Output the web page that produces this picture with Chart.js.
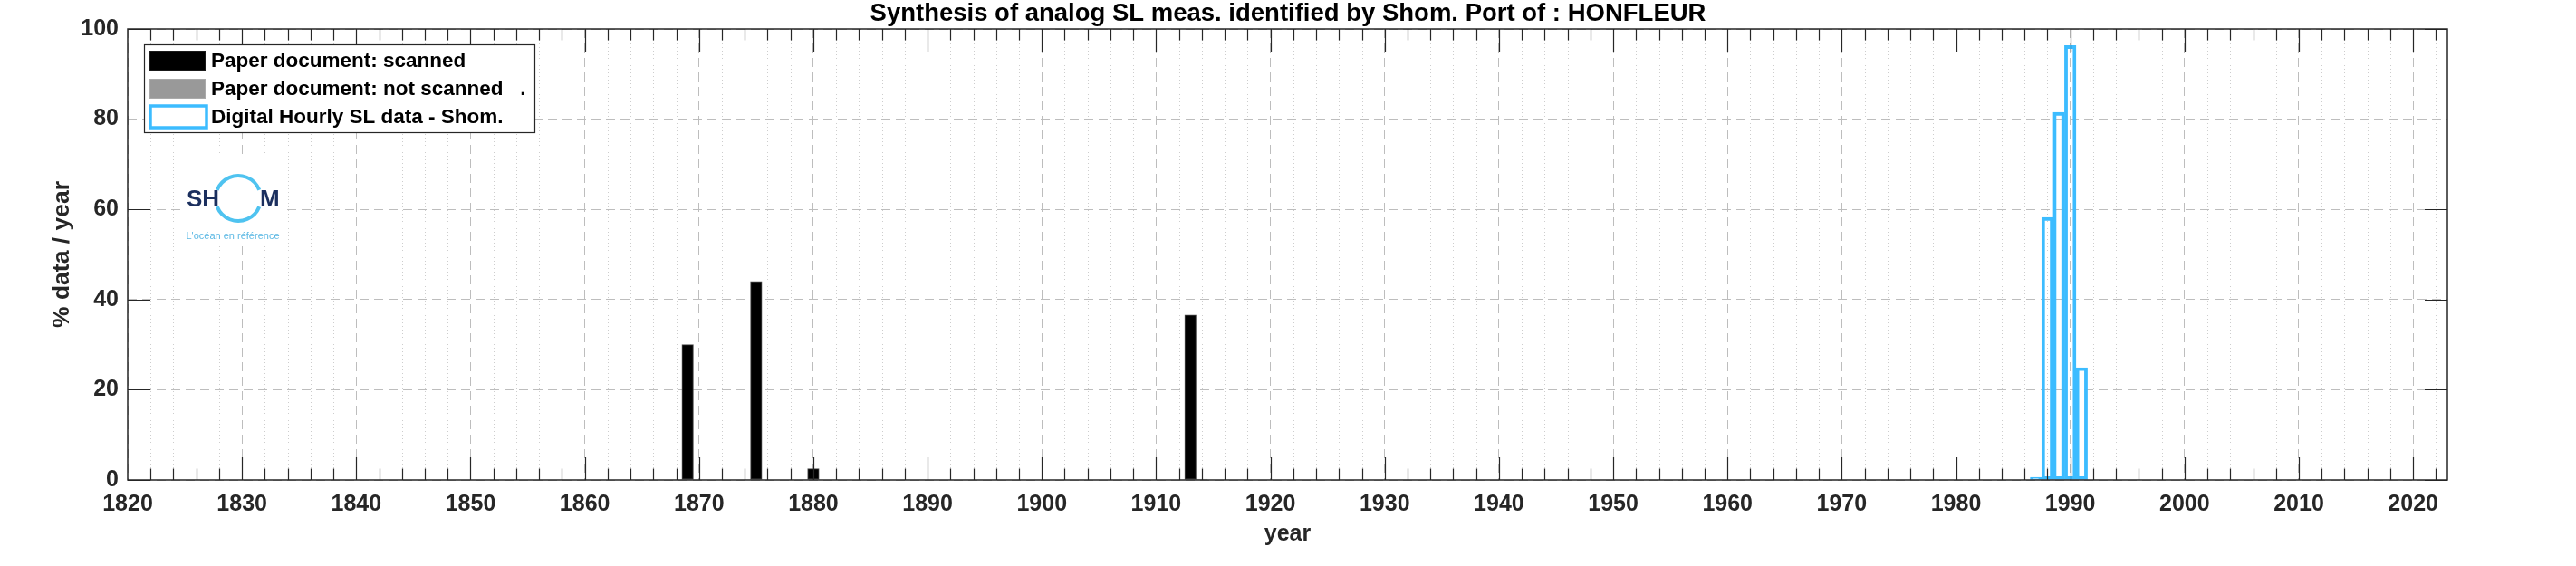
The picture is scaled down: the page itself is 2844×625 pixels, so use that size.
<!DOCTYPE html>
<html>
<head>
<meta charset="utf-8">
<title>HONFLEUR - analog SL meas.</title>
<script src="https://cdn.jsdelivr.net/npm/chart.js@4.4.1/dist/chart.umd.min.js"></script>
<style>
  html, body { margin: 0; padding: 0; background: #fff; }
  canvas { display: block; }
</style>
</head>
<body>
<canvas id="slChart" width="2844" height="625"></canvas>
<script>
// % of data per year
const scannedYears = [1869, 1875, 1880, 1913];
const scannedPct = [30, 44, 2.5, 36.6];

const notScannedYears = [1914];
const notScannedPct = [0.2];

const digitalYears = [1987, 1988, 1989, 1990, 1991];
const digitalPct = [0.6, 58.2, 81.5, 96.3, 24.9];

const xTicks = [1820, 1830, 1840, 1850, 1860, 1870, 1880, 1890, 1900, 1910, 1920,
                1930, 1940, 1950, 1960, 1970, 1980, 1990, 2000, 2010, 2020];
const yTicks = [0, 20, 40, 60, 80, 100];
const xMin = 1820, xMax = 2023;

const FONT = "'Liberation Sans', Arial, Helvetica, sans-serif";
const AXIS_COLOR = '#262626';
const BLUE = '#3cbcff';

const toPoints = (xs, ys) => xs.map((x, i) => ({ x: x, y: ys[i] }));

// matlab look: box, inside ticks on all 4 sides, dotted minor grid, logo, legend
const axesDeco = {
    id: 'axesDeco',
    beforeDatasetsDraw(chart) {
        const { ctx, chartArea: a, scales: { x } } = chart;
        ctx.save();
        ctx.strokeStyle = '#cdcdcd';
        ctx.lineWidth = 1;
        ctx.setLineDash([1, 3]);
        for (let yr = xMin + 2; yr < xMax; yr += 2) {
            if (yr % 10 === 0) continue;
            const px = Math.round(x.getPixelForValue(yr)) + 0.5;
            ctx.beginPath();
            ctx.moveTo(px, a.top);
            ctx.lineTo(px, a.bottom);
            ctx.stroke();
        }
        ctx.restore();
    },
    afterDatasetsDraw(chart) {
        const { ctx, chartArea: a, scales: { x, y } } = chart;
        ctx.save();

        // ticks
        ctx.strokeStyle = AXIS_COLOR;
        ctx.lineWidth = 1.2;
        for (let yr = xMin + 2; yr < xMax; yr += 2) {
            const major = xTicks.includes(yr);
            const len = major ? 25 : 12.5;
            const px = Math.round(x.getPixelForValue(yr)) + 0.5;
            ctx.beginPath();
            ctx.moveTo(px, a.bottom); ctx.lineTo(px, a.bottom - len);
            ctx.moveTo(px, a.top); ctx.lineTo(px, a.top + len);
            ctx.stroke();
        }
        yTicks.forEach(v => {
            const py = Math.round(y.getPixelForValue(v)) + 0.5;
            ctx.beginPath();
            ctx.moveTo(a.left, py); ctx.lineTo(a.left + 25, py);
            ctx.moveTo(a.right, py); ctx.lineTo(a.right - 25, py);
            ctx.stroke();
        });

        // box
        ctx.lineWidth = 1.5;
        ctx.strokeRect(a.left, a.top, a.right - a.left, a.bottom - a.top);

        // Shom logo
        ctx.fillStyle = '#fff';
        ctx.fillRect(199, 170, 116, 100);
        ctx.fillStyle = '#1b2f5e';
        ctx.font = 'bold 26px ' + FONT;
        ctx.textBaseline = 'alphabetic';
        ctx.textAlign = 'left';
        ctx.fillText('SH', 206, 228);
        ctx.fillText('M', 287, 228);
        ctx.strokeStyle = '#4fc3f0';
        ctx.lineWidth = 4;
        ctx.beginPath();
        ctx.arc(263, 219, 25, Math.PI * 1.12, Math.PI * 1.88);
        ctx.stroke();
        ctx.beginPath();
        ctx.arc(263, 219, 25, Math.PI * 0.12, Math.PI * 0.88);
        ctx.stroke();
        ctx.fillStyle = '#5bb8e4';
        ctx.font = '11px ' + FONT;
        ctx.textAlign = 'center';
        ctx.fillText("L'océan en référence", 257, 264);

        // legend
        const lx = 159, ly = 49, lw = 431, lh = 97;
        ctx.fillStyle = '#fff';
        ctx.fillRect(lx, ly, lw, lh);
        ctx.strokeStyle = AXIS_COLOR;
        ctx.lineWidth = 1.2;
        ctx.strokeRect(lx + 0.5, ly + 0.5, lw, lh);
        ctx.font = 'bold 22.5px ' + FONT;
        ctx.textAlign = 'left';
        ctx.textBaseline = 'middle';
        chart.data.datasets.forEach((ds, i) => {
            const cy = 67 + i * 31;
            if (ds.legendOutline) {
                ctx.strokeStyle = ds.borderColor;
                ctx.lineWidth = 3.5;
                ctx.strokeRect(166, cy - 12, 62, 24);
            } else {
                ctx.fillStyle = ds.backgroundColor;
                ctx.fillRect(165, cy - 11, 62, 22);
                ctx.strokeStyle = ds.legendEdge;
                ctx.lineWidth = 1;
                ctx.strokeRect(165.5, cy - 10.5, 61, 21);
            }
            ctx.fillStyle = '#000';
            ctx.fillText(ds.label, 233, cy + 1);
        });

        ctx.restore();
    }
};

const ctx = document.getElementById('slChart').getContext('2d');

const slChart = new Chart(ctx, {
    type: 'bar',
    data: {
        datasets: [
            {
                label: 'Paper document: scanned',
                data: toPoints(scannedYears, scannedPct),
                backgroundColor: '#000000',
                borderColor: '#4d4d4d',
                legendEdge: '#1a1a1a',
                borderWidth: 1,
                borderSkipped: false,
                grouped: false,
                barPercentage: 1,
                categoryPercentage: 1
            },
            {
                label: 'Paper document: not scanned   .',
                data: toPoints(notScannedYears, notScannedPct),
                backgroundColor: '#999999',
                borderColor: '#bbbbbb',
                legendEdge: '#aaaaaa',
                borderWidth: 1,
                borderSkipped: false,
                grouped: false,
                barPercentage: 1,
                categoryPercentage: 1
            },
            {
                label: 'Digital Hourly SL data - Shom.',
                data: toPoints(digitalYears, digitalPct),
                backgroundColor: 'rgba(255,255,255,0)',
                borderColor: BLUE,
                borderWidth: 3.2,
                borderSkipped: false,
                legendOutline: true,
                grouped: false,
                barPercentage: 1,
                categoryPercentage: 1
            }
        ]
    },
    options: {
        responsive: false,
        devicePixelRatio: 1,
        animation: false,
        events: [],
        layout: { padding: 0 },
        plugins: {
            legend: { display: false },
            tooltip: { enabled: false },
            title: {
                display: true,
                text: 'Synthesis of analog SL meas. identified by Shom. Port of : HONFLEUR',
                color: '#000',
                font: { family: FONT, size: 27.5, weight: 'bold', lineHeight: 1 },
                padding: { top: 2, bottom: 2.5 }
            }
        },
        scales: {
            x: {
                type: 'linear',
                min: xMin,
                max: xMax,
                offset: false,
                afterBuildTicks: s => { s.ticks = xTicks.map(v => ({ value: v })); },
                afterFit: s => { s.height = 95; },
                ticks: {
                    autoSkip: false,
                    maxRotation: 0,
                    padding: 12,
                    color: AXIS_COLOR,
                    font: { family: FONT, size: 25, weight: 'bold' },
                    callback: v => String(v)
                },
                grid: { offset: false, drawTicks: false, color: '#bdbdbd', lineWidth: 1 },
                border: { display: false, dash: [10, 6] },
                title: {
                    display: true,
                    text: 'year',
                    color: AXIS_COLOR,
                    font: { family: FONT, size: 25, weight: 'bold', lineHeight: 1.2 },
                    padding: { top: 0, bottom: 20 }
                }
            },
            y: {
                min: 0,
                max: 100,
                afterBuildTicks: s => { s.ticks = yTicks.map(v => ({ value: v })); },
                afterFit: s => { s.width = 141; },
                ticks: {
                    padding: 10,
                    color: AXIS_COLOR,
                    font: { family: FONT, size: 25, weight: 'bold' },
                    callback: v => String(v)
                },
                grid: { drawTicks: false, color: '#bdbdbd', lineWidth: 1 },
                border: { display: false, dash: [10, 6] },
                title: {
                    display: true,
                    text: '% data / year',
                    color: AXIS_COLOR,
                    font: { family: FONT, size: 26.5, weight: 'bold', lineHeight: 1.2 },
                    padding: { top: 53, bottom: 0 }
                }
            },
            yRight: {
                position: 'right',
                min: 0,
                max: 100,
                afterFit: s => { s.width = 142; },
                ticks: { display: false },
                grid: { display: false },
                border: { display: false }
            }
        }
    },
    plugins: [axesDeco]
});
</script>
</body>
</html>
